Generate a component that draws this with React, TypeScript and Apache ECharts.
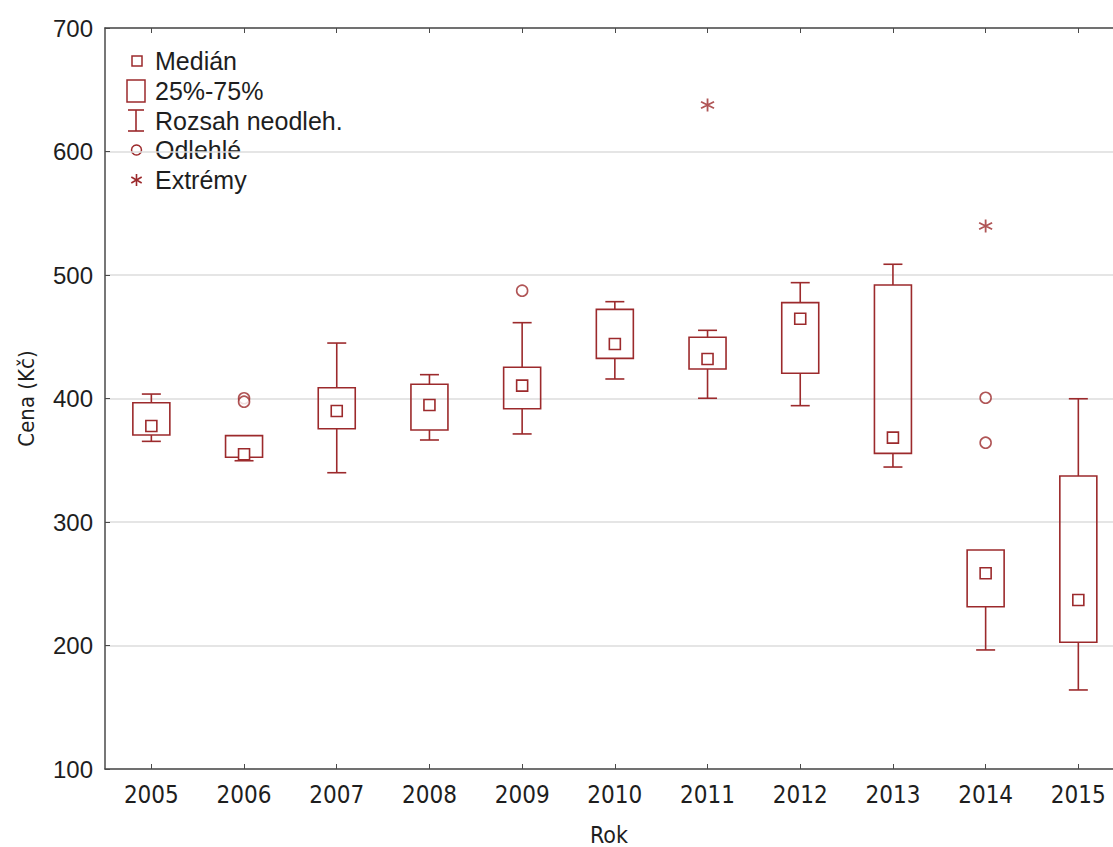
import React, { useEffect, useRef } from "react";
import * as echarts from "echarts";

const years = ["2005", "2006", "2007", "2008", "2009", "2010", "2011", "2012", "2013", "2014", "2015"];
const mins = [365.3, 349.6, 339.9, 366.4, 371.3, 415.8, 400.2, 394.2, 344.5, 196.4, 164];
const q1s = [370.4, 352.4, 375.5, 374.5, 391.7, 432.5, 423.9, 420.4, 355.6, 231.4, 202.6];
const medians = [377.7, 354.8, 389.9, 394.7, 410.4, 444.1, 432, 464.6, 368.3, 258.5, 236.8];
const q3s = [396.6, 369.9, 408.7, 411.5, 425.3, 472.2, 449.6, 477.6, 491.9, 277.3, 337.2];
const maxs = [403.6, 369.9, 444.9, 419.3, 461.4, 478.4, 455.2, 493.8, 508.7, 277.3, 399.8];
const outlierYears = ["2006", "2006", "2009", "2014", "2014"];
const outlierValues = [400.2, 397.4, 487.3, 400.6, 364.2];
const extremeYears = ["2011", "2014"];
const extremeValues = [637.7, 539.7];
const yTicks = [100, 200, 300, 400, 500, 600, 700];

const RED = "#9c2a2c";
const TEXT = "#1e1e1e";
const AXIS = "#4a4a4a";
const SANS = "'Liberation Sans', Arial, sans-serif";
const NARROW = "'Liberation Sans Narrow', 'DejaVu Sans Condensed', 'Liberation Sans', Arial, sans-serif";

const ASTERISK = "path://M6 0L6 12M0.8 3L11.2 9M0.8 9L11.2 3";

export default function App() {
  const ref = useRef<HTMLDivElement>(null);
  useEffect(() => {
    document.body.style.margin = "0";
    document.body.style.overflow = "hidden";
    if (!ref.current) return;
    const chart = echarts.init(ref.current, undefined, { renderer: "svg" });
    const idxOf = (y: string) => years.indexOf(y);
    const catIdx = years.map((_, i) => i);
    const boxData = years.map((_, i) => [i, mins[i], q1s[i], medians[i], q3s[i], maxs[i]]);
    const legendY = [61, 91, 121, 150, 180];
    const legendLabels = ["Medián", "25%-75%", "Rozsah neodleh.", "Odlehlé", "Extrémy"];
    const lineStyle = { stroke: RED, lineWidth: 1.6 };
    // plot spans 105..1113 px; category pitch 92.7 px -> visible range -0.5 .. 10.374
    const xMin = -0.5;
    const xMax = 10.374;
    const option: any = {
      animation: false,
      backgroundColor: "#ffffff",
      grid: { left: 105, top: 28, right: 0, bottom: 78, containLabel: false, outerBoundsMode: "none" },
      xAxis: [
        {
          type: "value",
          min: xMin,
          max: xMax,
          position: "bottom",
          name: "Rok",
          nameLocation: "middle",
          nameGap: 55,
          nameTextStyle: { fontFamily: NARROW, fontSize: 23, lineHeight: 21, color: TEXT },
          axisLine: { show: true, onZero: false, lineStyle: { color: AXIS, width: 1.5 } },
          axisTick: { show: true, inside: true, length: 5, customValues: catIdx, lineStyle: { color: AXIS } },
          axisLabel: {
            fontFamily: NARROW,
            fontSize: 24,
            color: TEXT,
            margin: 14,
            customValues: catIdx,
            formatter: (v: number) => years[Math.round(v)] ?? "",
          },
          splitLine: { show: false },
        },
        {
          type: "value",
          min: xMin,
          max: xMax,
          position: "top",
          axisLine: { show: true, onZero: false, lineStyle: { color: AXIS, width: 1.5 } },
          axisTick: { show: true, inside: true, length: 5, customValues: catIdx, lineStyle: { color: AXIS } },
          axisLabel: { show: false },
          splitLine: { show: false },
        },
      ],
      yAxis: {
        type: "value",
        min: yTicks[0],
        max: yTicks[yTicks.length - 1],
        interval: 100,
        name: "Cena (Kč)",
        nameLocation: "middle",
        nameRotate: 90,
        nameGap: 68,
        nameTextStyle: { fontFamily: NARROW, fontSize: 22, color: TEXT },
        axisLine: { show: true, onZero: false, lineStyle: { color: AXIS, width: 1.5 } },
        axisTick: { show: true, inside: true, length: 5, lineStyle: { color: AXIS } },
        axisLabel: { fontFamily: SANS, fontSize: 24, color: TEXT, margin: 12 },
        splitLine: { show: true, lineStyle: { color: "#dcdcdc", width: 1.5 } },
      },
      series: [
        {
          type: "custom",
          xAxisIndex: 0,
          data: boxData,
          encode: { x: 0, y: [1, 2, 3, 4, 5] },
          renderItem: (params: any, api: any) => {
            const idx = api.value(0);
            const pMin = api.coord([idx, api.value(1)]);
            const pQ1 = api.coord([idx, api.value(2)]);
            const pMed = api.coord([idx, api.value(3)]);
            const pQ3 = api.coord([idx, api.value(4)]);
            const pMax = api.coord([idx, api.value(5)]);
            const x = pMin[0];
            const hw = 18.5;
            const cw = 9.5;
            const ms = 5.5;
            const children: any[] = [];
            if (pMax[1] < pQ3[1] - 0.5) {
              children.push({ type: "line", shape: { x1: x, y1: pMax[1], x2: x, y2: pQ3[1] }, style: lineStyle });
              children.push({ type: "line", shape: { x1: x - cw, y1: pMax[1], x2: x + cw, y2: pMax[1] }, style: lineStyle });
            }
            if (pMin[1] > pQ1[1] + 0.5) {
              children.push({ type: "line", shape: { x1: x, y1: pQ1[1], x2: x, y2: pMin[1] }, style: lineStyle });
              children.push({ type: "line", shape: { x1: x - cw, y1: pMin[1], x2: x + cw, y2: pMin[1] }, style: lineStyle });
            }
            children.push({
              type: "rect",
              shape: { x: x - hw, y: pQ3[1], width: 2 * hw, height: pQ1[1] - pQ3[1] },
              style: { fill: "none", stroke: RED, lineWidth: 1.6 },
            });
            children.push({
              type: "rect",
              shape: { x: x - ms, y: pMed[1] - ms, width: 2 * ms, height: 2 * ms },
              style: { fill: "#ffffff", stroke: RED, lineWidth: 1.6 },
            });
            return { type: "group", children };
          },
          z: 3,
        },
        {
          type: "scatter",
          xAxisIndex: 0,
          data: outlierYears.map((y, i) => [idxOf(y), outlierValues[i]]),
          symbol: "circle",
          symbolSize: 11,
          itemStyle: { color: "#ffffff", borderColor: RED, borderWidth: 1.6 },
          z: 4,
        },
        {
          type: "scatter",
          xAxisIndex: 0,
          data: extremeYears.map((y, i) => [idxOf(y), extremeValues[i]]),
          symbol: ASTERISK,
          symbolSize: 13,
          itemStyle: { color: "none", borderColor: RED, borderWidth: 1.8 },
          z: 4,
        },
      ],
      graphic: [
        { type: "rect", shape: { x: 132, y: legendY[0] - 5, width: 10, height: 10 }, style: { fill: "#fff", stroke: RED, lineWidth: 1.5 } },
        { type: "rect", shape: { x: 127, y: legendY[1] - 11, width: 18, height: 22 }, style: { fill: "#fff", stroke: RED, lineWidth: 1.5 } },
        { type: "line", shape: { x1: 136, y1: legendY[2] - 11, x2: 136, y2: legendY[2] + 10 }, style: lineStyle },
        { type: "line", shape: { x1: 128, y1: legendY[2] - 11, x2: 144, y2: legendY[2] - 11 }, style: lineStyle },
        { type: "line", shape: { x1: 128, y1: legendY[2] + 10, x2: 144, y2: legendY[2] + 10 }, style: lineStyle },
        { type: "circle", shape: { cx: 136.5, cy: legendY[3], r: 5 }, style: { fill: "#fff", stroke: RED, lineWidth: 1.5 } },
        { type: "line", shape: { x1: 136.5, y1: legendY[4] - 6, x2: 136.5, y2: legendY[4] + 6 }, style: lineStyle },
        { type: "line", shape: { x1: 131.3, y1: legendY[4] - 3, x2: 141.7, y2: legendY[4] + 3 }, style: lineStyle },
        { type: "line", shape: { x1: 131.3, y1: legendY[4] + 3, x2: 141.7, y2: legendY[4] - 3 }, style: lineStyle },
        ...legendLabels.map((t, i) => ({
          type: "text",
          x: 155,
          y: legendY[i],
          style: { text: t, fill: TEXT, font: `25px ${SANS}`, textVerticalAlign: "middle", verticalAlign: "middle" },
        })),
      ],
    };
    chart.setOption(option);
    return () => chart.dispose();
  }, []);
  return (
    <div style={{ position: "absolute", left: 0, top: 0, width: 1113, height: 847, overflow: "hidden" }}>
      <div ref={ref} style={{ width: 1113, height: 847, overflow: "hidden" }} />
    </div>
  );
}
